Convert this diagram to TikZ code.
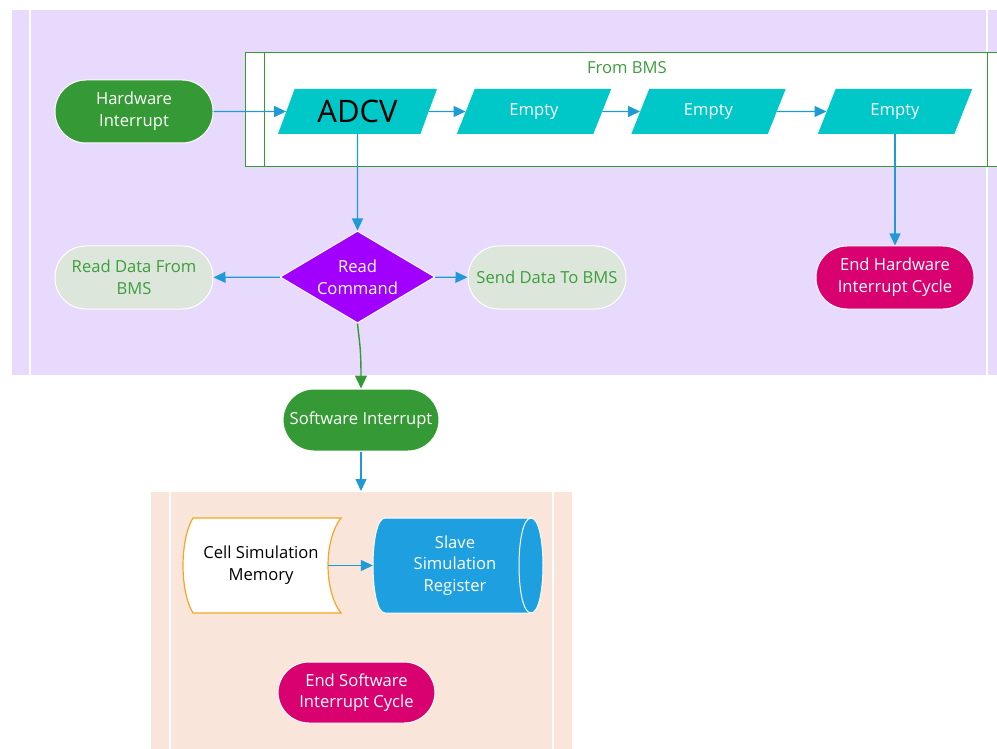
\documentclass[tikz,border=0pt]{standalone}
\usepackage{fontspec}
\setmainfont{Open Sans}
\usetikzlibrary{shapes.geometric,arrows.meta}
\definecolor{lav}{RGB}{232,218,253}
\definecolor{peach}{RGB}{249,229,218}
\definecolor{hgreen}{RGB}{53,154,53}
\definecolor{tgreen}{RGB}{61,158,61}
\definecolor{cyanp}{RGB}{0,199,200}
\definecolor{arrblue}{RGB}{30,154,214}
\definecolor{purp}{RGB}{161,0,255}
\definecolor{mag}{RGB}{217,0,111}
\definecolor{lgray}{RGB}{220,230,218}
\definecolor{sblue}{RGB}{30,160,224}
\definecolor{orng}{RGB}{245,166,35}
\begin{document}
\begin{tikzpicture}[x=1pt,y=-1pt,
  every node/.style={font=\fontsize{16.6}{21.7}\selectfont, align=center, inner sep=0pt},
  stadium/.style={rectangle, rounded corners=31pt, minimum width=158pt, minimum height=63pt, draw=white, line width=1pt},
  para/.style={trapezium, trapezium left angle=65, trapezium right angle=115, trapezium stretches=true, minimum height=45pt, fill=cyanp, text=white},
  arr/.style={draw=arrblue, line width=1.2pt, -{Triangle[length=12pt,width=11pt]}},
  garr/.style={draw=hgreen, line width=1.4pt, -{Triangle[length=13pt,width=12pt]}},
  lane/.style={draw=white, line width=1.5pt},
  gbox/.style={draw=hgreen, line width=1pt}]
\useasboundingbox (0,0) rectangle (997,749);
% backgrounds
\fill[lav] (12,10) rectangle (997,375);
\draw[lane] (30,10) -- (30,375);
\draw[lane] (987,10) -- (987,375);
\fill[peach] (151,492) rectangle (572,749);
\draw[lane] (170,492) -- (170,749);
\draw[lane] (553,492) -- (553,749);
% From BMS container
\fill[white] (245,52.5) rectangle (997,167);
\draw[gbox] (997,52.5) -- (245,52.5) -- (245,167) -- (997,167);
\draw[gbox] (264,52.5) -- (264,167);
\draw[gbox] (987,52.5) -- (987,167);
\node[text=tgreen] (fbms) at (627,68) {From BMS};
% nodes
\node[stadium, fill=hgreen, text=white] (hw) at (134,111.5) {Hardware\\Interrupt};
\node[para, minimum width=159pt, text=black, font=\fontsize{31}{32}\selectfont] (adcv) at (357.5,111.5) {ADCV};
\node[para, minimum width=155pt] (e1) at (534,111.5) {Empty};
\node[para, minimum width=155pt] (e2) at (708.5,111.5) {Empty};
\node[para, minimum width=155pt] (e3) at (895,111.5) {Empty};
\node[diamond, aspect=1.685, minimum width=155pt, minimum height=92pt, fill=purp, draw=white, line width=1pt, text=white] (rc) at (357.5,277) {Read\\Command};
\node[stadium, fill=lgray, text=tgreen] (rd) at (134,277.5) {Read Data From\\BMS};
\node[stadium, fill=lgray, text=tgreen] (sd) at (547,277.5) {Send Data To BMS};
\node[stadium, fill=mag, text=white] (ehw) at (895,277.5) {End Hardware\\Interrupt Cycle};
\node[stadium, fill=hgreen, text=white, minimum width=156pt, minimum height=62pt] (sw) at (361,420) {Software Interrupt};
\coordinate (pk) at (361,491);
% stored data shape
\filldraw[fill=white, draw=orng, line width=1.2pt] (193,518) -- (341,518)
  .. controls (323.7,540) and (323.7,591) .. (341,613) -- (193,613)
  .. controls (179.7,591) and (179.7,540) .. (193,518) -- cycle;
\node (csm) at (261,565.5) [minimum width=134pt, minimum height=95pt] {Cell Simulation\\Memory};
% cylinder
\filldraw[fill=sblue, draw=white, line width=1pt] (385,518) -- (531,518)
  .. controls (547,518) and (547,613) .. (531,613) -- (385,613)
  .. controls (369,613) and (369,518) .. (385,518) -- cycle;
\draw[white, line width=1pt] (531,518) .. controls (515,518) and (515,613) .. (531,613);
\node[text=white, minimum width=164pt, minimum height=95pt] (sr) at (455,565.5) {Slave\\Simulation\\Register};
\node[stadium, fill=mag, text=white, minimum width=157pt, minimum height=61pt] (esw) at (356.5,692.5) {End Software\\Interrupt Cycle};
% connectors
\draw[arr] (hw) -- (adcv);
\draw[arr] (adcv) -- (e1);
\draw[arr] (e1) -- (e2);
\draw[arr] (e2) -- (e3);
\draw[arr] (adcv) -- (rc);
\draw[arr] (e3) -- (ehw);
\draw[arr] (rc) -- (rd);
\draw[arr] (rc) -- (sd);
\draw[garr] (rc.south) .. controls (359,340) and (361,345) .. (sw.north);
\draw[arr] (sw) -- (pk);
\draw[arr] (csm) -- (sr);
\end{tikzpicture}
\end{document}
